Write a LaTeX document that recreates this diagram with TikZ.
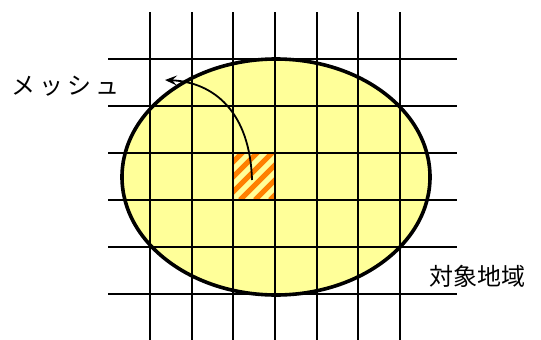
\documentclass[tikz,border=0pt]{standalone}
\usepackage{fontspec}
\newfontfamily\jpfont{Noto Sans CJK JP}
\usetikzlibrary{arrows.meta}
\definecolor{areafill}{RGB}{255,255,153}
\definecolor{hatchor}{RGB}{255,128,0}
\begin{document}
\begin{tikzpicture}[x=1pt,y=-1pt,
  gridline/.style={line width=1.8pt,black},
  areaedge/.style={line width=3.6pt,black},
  lbl/.style={font=\jpfont\fontsize{24}{28}\selectfont,inner sep=0pt,anchor=west}]
\useasboundingbox (0,0) rectangle (541,340);
% target area fill
\fill[areafill] (276,177) ellipse [x radius=154, y radius=118];
% hatched mesh cell
\begin{scope}
  \clip (233.3,153) rectangle (275,200);
  \fill[areafill] (233.3,153) rectangle (275,200);
  \foreach \k in {-75,-60,...,60}
    \draw[hatchor,line width=5pt] (240+\k,200) -- ++(60,-60);
\end{scope}
% grid
\foreach \i in {0,...,6}
  \draw[gridline] ({150+41.667*\i},12) -- ({150+41.667*\i},340);
\foreach \j in {0,...,5}
  \draw[gridline] (108,{59+47*\j}) -- (457,{59+47*\j});
% outline
\draw[areaedge] (276,177) ellipse [x radius=154, y radius=118];
% labels
\node[lbl] (mesh) at (11,86) {メ\kern4ptッ\kern4ptシ\kern4ptュ};
\node[lbl] (area) at (429,276) {対象地域};
% arrow
\coordinate (cellpt) at (252,180);
\coordinate (tip) at (165,80);
\draw[line width=1.8pt,-{Stealth[length=12pt,width=10pt,inset=5pt]}]
  (cellpt) .. controls (250,112) and (214,82) .. (tip);
\end{tikzpicture}
\end{document}
